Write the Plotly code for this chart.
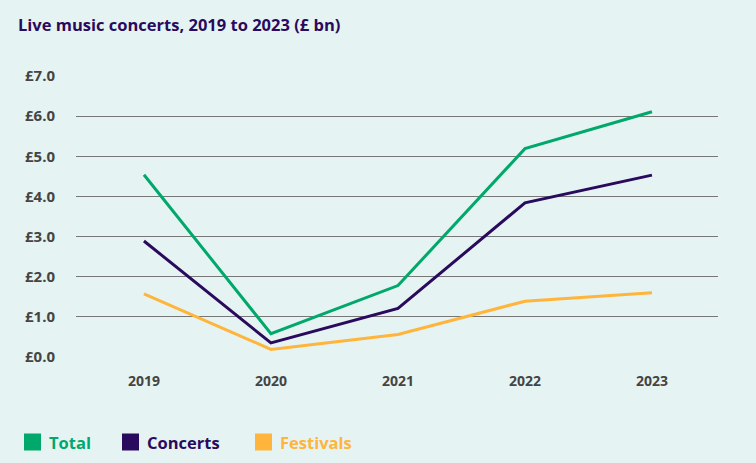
import plotly.graph_objects as go

years = ["2019", "2020", "2021", "2022", "2023"]
total = [4.54, 0.58, 1.78, 5.19, 6.11]
concerts = [2.89, 0.35, 1.21, 3.84, 4.53]
festivals = [1.57, 0.19, 0.56, 1.39, 1.60]
y_ticks = [0, 1, 2, 3, 4, 5, 6, 7]
y_labels = ["£%.1f" % v for v in y_ticks]

names = ["Total", "Concerts", "Festivals"]
colors = ["#00a86b", "#2a0a5c", "#ffb43c"]
values = [total, concerts, festivals]

fig = go.Figure()
for name, vals, col in zip(names, values, colors):
    fig.add_trace(go.Scatter(x=years, y=vals, mode="lines", name=name,
                             line=dict(color=col, width=3), showlegend=False))

# legend drawn as squares + labels in paper coordinates
leg_x = [24, 122, 255]  # pixel positions of squares
W, H, L, B = 756, 463, 76, 106
pw, ph = W - L - 38, H - 76 - B
for px, name, col in zip(leg_x, names, colors):
    x0 = (px - L) / pw
    x1 = (px + 17 - L) / pw
    yc = (H - B - 442) / ph
    fig.add_shape(type="rect", xref="paper", yref="paper", x0=x0, x1=x1,
                  y0=yc - 8.5 / ph, y1=yc + 8.5 / ph, fillcolor=col, line=dict(width=0))
    fig.add_annotation(xref="paper", yref="paper", x=(px + 23 - L) / pw, y=yc,
                       xanchor="left", yanchor="middle", showarrow=False,
                       text="<b>%s</b>" % name, font=dict(size=16.5, color=col))

fig.update_layout(
    width=W, height=H,
    paper_bgcolor="#e5f4f3", plot_bgcolor="#e5f4f3",
    margin=dict(l=L, r=38, t=76, b=B),
    font=dict(family="Open Sans, sans-serif", size=14, color="#444444"),
    title=dict(text="<b>Live music concerts, 2019 to 2023 (£ bn)</b>", x=18 / W, xanchor="left",
               y=1 - 25 / H, yanchor="middle", font=dict(size=16.5, color="#2a0a5c")),
    xaxis=dict(type="category", range=[-0.535, 4.52], showgrid=False, showline=False, zeroline=False,
               tickvals=years, ticktext=["<b>%s</b>" % y for y in years],
               tickfont=dict(size=14, color="#444444"), ticks="", ticklabelstandoff=14),
    yaxis=dict(range=[0, 7], tickvals=y_ticks, ticktext=["<b>%s</b>" % t for t in y_labels],
               showgrid=True, gridcolor="#777777", gridwidth=1, zeroline=False, showline=False,
               tickfont=dict(size=15, color="#444444"), ticks="", ticklabelstandoff=20),
    showlegend=False,
)
fig.write_html("out.html", config={"displayModeBar": False},
               post_script="document.body.style.margin='0';")
